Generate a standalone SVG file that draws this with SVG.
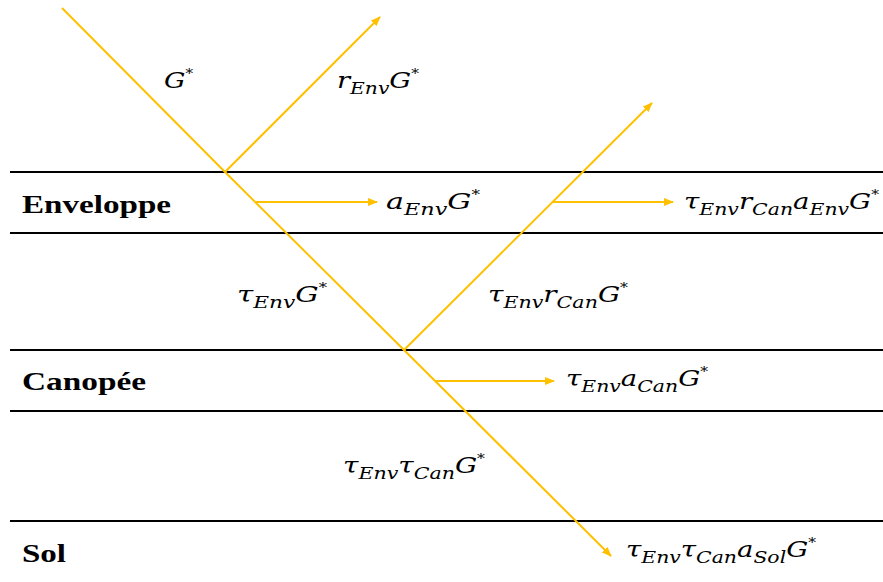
<svg xmlns="http://www.w3.org/2000/svg" width="883" height="582" viewBox="0 0 883 582">
<style>
.layer{stroke:#000;stroke-width:2}
.ray{stroke:#FFC000;stroke-width:2;fill:none}
.m{font-family:'DejaVu Serif','Liberation Serif','Times New Roman',Tinos,serif;font-style:italic;font-size:23px;fill:#000}
.sub{font-size:17px}
.sup{font-size:13px;font-style:normal}
.lab{font-family:'Liberation Serif','DejaVu Serif','Times New Roman',Tinos,serif;font-weight:bold;font-size:25px;fill:#000}
</style>
<defs>
<marker id="ah" viewBox="0 0 10 8" refX="9" refY="4" markerWidth="10" markerHeight="8" markerUnits="userSpaceOnUse" orient="auto">
<path d="M0,0 L10,4 L0,8 Z" fill="#FFC000"/>
</marker>
</defs>
<rect width="883" height="582" fill="#fff"/>
<g id="layers">
<g id="enveloppe"><line class="layer" x1="10" y1="172" x2="883" y2="172"/><line class="layer" x1="10" y1="233" x2="883" y2="233"/><text class="lab" x="22" y="213" textLength="149" lengthAdjust="spacingAndGlyphs">Enveloppe</text></g>
<g id="canopee"><line class="layer" x1="10" y1="350" x2="883" y2="350"/><line class="layer" x1="10" y1="411" x2="883" y2="411"/><text class="lab" x="22" y="390" textLength="124" lengthAdjust="spacingAndGlyphs">Canopée</text></g>
<g id="sol"><line class="layer" x1="10" y1="521" x2="883" y2="521"/><text class="lab" x="22" y="562" textLength="44" lengthAdjust="spacingAndGlyphs">Sol</text></g>
</g>
<g id="connectors">
<polyline class="ray" points="62,8 225,172 404,350 611,556" marker-end="url(#ah)"/>
<line class="ray" x1="225" y1="172" x2="380" y2="17" marker-end="url(#ah)"/>
<line class="ray" x1="404" y1="350" x2="652" y2="103" marker-end="url(#ah)"/>
<line class="ray" x1="256" y1="202" x2="377" y2="202" marker-end="url(#ah)"/>
<line class="ray" x1="552" y1="202" x2="673" y2="202" marker-end="url(#ah)"/>
<line class="ray" x1="435" y1="381" x2="554" y2="381" marker-end="url(#ah)"/>
</g>
<g id="labels">
<g id="l-G"><text class="m" x="164" y="88" textLength="29" lengthAdjust="spacingAndGlyphs">G<tspan class="sup" dy="-10">*</tspan></text></g>
<g id="l-rEnvG"><text class="m" x="337" y="88" textLength="82" lengthAdjust="spacingAndGlyphs">r<tspan class="sub" dy="6">Env</tspan><tspan dy="-6">G</tspan><tspan class="sup" dy="-10">*</tspan></text></g>
<g id="l-aEnvG"><text class="m" x="386" y="209" textLength="94" lengthAdjust="spacingAndGlyphs">a<tspan class="sub" dy="6">Env</tspan><tspan dy="-6">G</tspan><tspan class="sup" dy="-10">*</tspan></text></g>
<g id="l-tEnvrCanaEnvG"><text class="m" x="684" y="209" textLength="195" lengthAdjust="spacingAndGlyphs">τ<tspan class="sub" dy="6">Env</tspan><tspan dy="-6">r</tspan><tspan class="sub" dy="6">Can</tspan><tspan dy="-6">a</tspan><tspan class="sub" dy="6">Env</tspan><tspan dy="-6">G</tspan><tspan class="sup" dy="-10">*</tspan></text></g>
<g id="l-tEnvG"><text class="m" x="237" y="302" textLength="90" lengthAdjust="spacingAndGlyphs">τ<tspan class="sub" dy="6">Env</tspan><tspan dy="-6">G</tspan><tspan class="sup" dy="-10">*</tspan></text></g>
<g id="l-tEnvrCanG"><text class="m" x="488" y="302" textLength="140" lengthAdjust="spacingAndGlyphs">τ<tspan class="sub" dy="6">Env</tspan><tspan dy="-6">r</tspan><tspan class="sub" dy="6">Can</tspan><tspan dy="-6">G</tspan><tspan class="sup" dy="-10">*</tspan></text></g>
<g id="l-tEnvaCanG"><text class="m" x="566" y="386" textLength="142" lengthAdjust="spacingAndGlyphs">τ<tspan class="sub" dy="6">Env</tspan><tspan dy="-6">a</tspan><tspan class="sub" dy="6">Can</tspan><tspan dy="-6">G</tspan><tspan class="sup" dy="-10">*</tspan></text></g>
<g id="l-tEnvtCanG"><text class="m" x="343" y="473" textLength="142" lengthAdjust="spacingAndGlyphs">τ<tspan class="sub" dy="6">Env</tspan><tspan dy="-6">τ</tspan><tspan class="sub" dy="6">Can</tspan><tspan dy="-6">G</tspan><tspan class="sup" dy="-10">*</tspan></text></g>
<g id="l-tEnvtCanaSolG"><text class="m" x="626" y="557" textLength="190" lengthAdjust="spacingAndGlyphs">τ<tspan class="sub" dy="6">Env</tspan><tspan dy="-6">τ</tspan><tspan class="sub" dy="6">Can</tspan><tspan dy="-6">a</tspan><tspan class="sub" dy="6">Sol</tspan><tspan dy="-6">G</tspan><tspan class="sup" dy="-10">*</tspan></text></g>
</g>
</svg>
